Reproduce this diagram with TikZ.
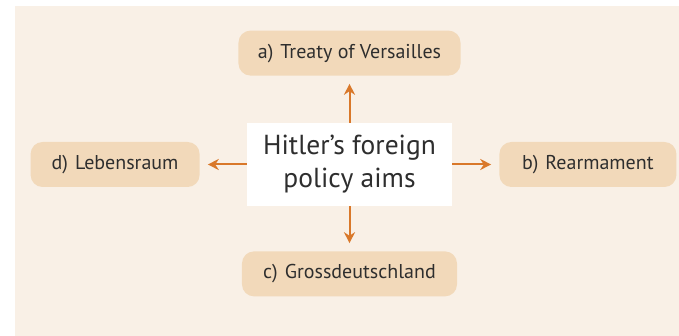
\documentclass[tikz,border=0pt]{standalone}
\usepackage{fontspec}
\setmainfont{PT Sans}
\usepackage{xcolor}
\usepackage{tikz}
\usetikzlibrary{arrows.meta, positioning}

\definecolor{pagebg}{HTML}{F9F0E6}
\definecolor{aimfill}{HTML}{F2D9BA}
\definecolor{arroworange}{HTML}{D9782A}
\definecolor{textgray}{HTML}{2E2E2E}

\begin{document}
\begin{tikzpicture}[
    x=1pt, y=1pt,
    node distance=47pt,
    aim/.style={rectangle, fill=aimfill, rounded corners=12pt, minimum height=45pt, inner xsep=16pt, text=textgray, font=\fontsize{20}{24}\selectfont},
    hub/.style={rectangle, fill=white, minimum width=205pt, minimum height=83pt, align=center, text=textgray, font=\fontsize{27.5}{33}\selectfont},
    arrow/.style={-{Stealth[length=11pt, width=11pt]}, line width=2pt, color=arroworange, shorten >=8pt}
]
    % page size and cream background
    \useasboundingbox (-349.5,164.5) rectangle (329.5,-171.5);
    \fill[pagebg] (-334.5,158.5) rectangle (329.5,-171.5);

    \node (aims) [hub] {Hitler's foreign\\policy aims};
    \node (versailles) [aim, minimum width=222pt, above=of aims] {a)\hspace{7pt}Treaty of Versailles};
    \node (rearm) [aim, minimum width=177pt, right=of aims] {b)\hspace{7pt}Rearmament};
    \node (gross) [aim, minimum width=215pt, below=45pt of aims] {c)\hspace{7pt}Grossdeutschland};
    \node (lebens) [aim, minimum width=169pt, left=of aims] {d)\hspace{7pt}Lebensraum};

    \draw [arrow] (aims) -- (versailles);
    \draw [arrow] (aims) -- (rearm);
    \draw [arrow] (aims) -- (gross);
    \draw [arrow] (aims) -- (lebens);
\end{tikzpicture}
\end{document}
